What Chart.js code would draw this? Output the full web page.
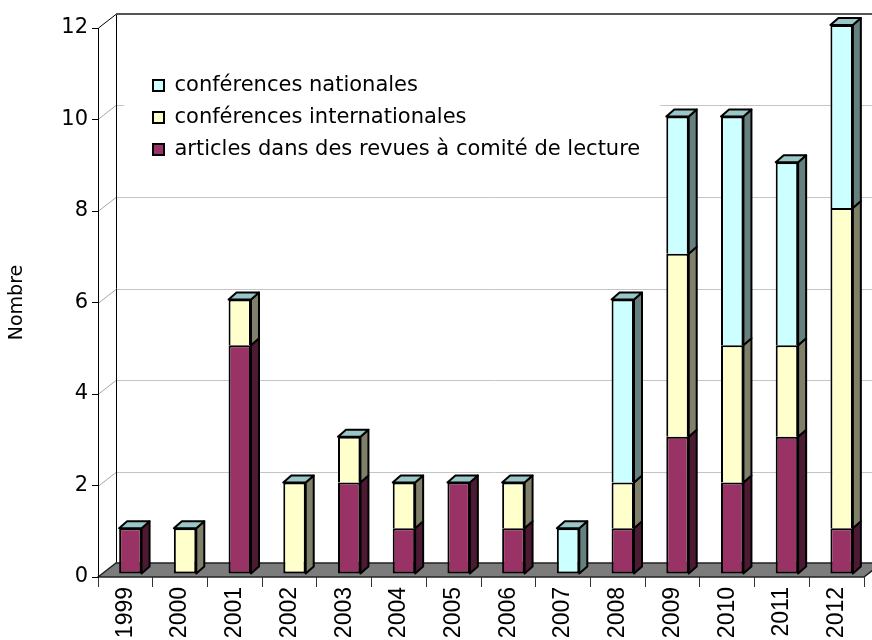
<!DOCTYPE html>
<html>
<head>
<meta charset="utf-8">
<script src="https://cdn.jsdelivr.net/npm/chart.js@4"></script>
<style>
  html, body { margin: 0; padding: 0; background: #fff; }
</style>
</head>
<body>
<canvas id="publiChart" width="872" height="640"></canvas>
<script>
const years = ['1999', '2000', '2001', '2002', '2003', '2004', '2005', '2006', '2007', '2008', '2009', '2010', '2011', '2012'];
const articles = [1, 0, 5, 0, 2, 1, 2, 1, 0, 1, 3, 2, 3, 1];
const internationales = [0, 1, 1, 2, 1, 1, 0, 1, 0, 1, 4, 3, 2, 7];
const nationales = [0, 0, 0, 0, 0, 0, 0, 0, 1, 4, 3, 5, 4, 4];
const yTicks = [0, 2, 4, 6, 8, 10, 12];

const seriesNames = [
    'articles dans des revues à comité de lecture',
    'conférences internationales',
    'conférences nationales'
];

// front / side colours per series
const frontColors = ['#993366', '#ffffcc', '#ccffff'];
const sideColors = ['#4d1a33', '#80806a', '#668080'];
const topColor = '#99c6c6';

const wall = { dx: 18, dy: 14 };   // depth of the back wall
const depth = { dx: 8, dy: 7 };    // depth of a bar
const shift = { x: 5, y: -3 };     // bars sit half way in the floor

const seriesValues = [articles, internationales, nationales];

Chart.defaults.font.family = '"DejaVu Sans", Verdana, sans-serif';
Chart.defaults.color = '#000';

const box3d = {
    id: 'box3d',
    afterLayout(chart) {
        const lg = chart.legend;
        const w = lg.width;
        lg.left = 142;
        lg.top = 64;
        lg.right = lg.left + w;
    },
    beforeDraw(chart) {
        const { ctx, chartArea } = chart;
        const yScale = chart.scales.y;
        const L = chartArea.left;
        const R = chartArea.right;
        const y0 = yScale.getPixelForValue(0);
        const yTop = yScale.getPixelForValue(yTicks[yTicks.length - 1]);

        ctx.save();
        // grid lines on side and back wall
        ctx.lineWidth = 1;
        yTicks.slice(1, -1).forEach(v => {
            const y = Math.round(yScale.getPixelForValue(v)) + 0.5;
            ctx.strokeStyle = '#a8a8a8';
            ctx.beginPath();
            ctx.moveTo(L, y);
            ctx.lineTo(L + wall.dx, y - wall.dy);
            ctx.stroke();
            ctx.strokeStyle = '#c4c4c4';
            ctx.beginPath();
            ctx.moveTo(L + wall.dx, y - wall.dy);
            ctx.lineTo(R + wall.dx, y - wall.dy);
            ctx.stroke();
        });

        // white legend panel hides grid lines
        const hb = chart.legend.legendHitBoxes;
        if (hb && hb.length) {
            const x1 = Math.min(...hb.map(b => b.left)) - 29;
            const x2 = Math.max(...hb.map(b => b.left + b.width)) + 20;
            const y1 = Math.min(...hb.map(b => b.top)) - 30;
            const y2 = Math.max(...hb.map(b => b.top + b.height)) + 30;
            ctx.fillStyle = '#fff';
            ctx.fillRect(x1, y1, x2 - x1, y2 - y1);
        }

        // wall edges
        ctx.strokeStyle = '#000';
        ctx.lineWidth = 1;
        ctx.beginPath();
        ctx.moveTo(L + 0.5, yTop);
        ctx.lineTo(L + wall.dx + 0.5, yTop - wall.dy);
        ctx.lineTo(L + wall.dx + 0.5, y0 - wall.dy);
        ctx.stroke();
        ctx.strokeStyle = '#555';
        ctx.lineWidth = 2;
        ctx.beginPath();
        ctx.moveTo(L + wall.dx, yTop - wall.dy);
        ctx.lineTo(R + wall.dx, yTop - wall.dy);
        ctx.stroke();

        // floor
        ctx.fillStyle = '#7c7c7c';
        ctx.strokeStyle = '#222';
        ctx.lineWidth = 1.5;
        ctx.beginPath();
        ctx.moveTo(L, y0);
        ctx.lineTo(L + wall.dx, y0 - wall.dy);
        ctx.lineTo(R + wall.dx, y0 - wall.dy);
        ctx.lineTo(R, y0);
        ctx.closePath();
        ctx.fill();
        ctx.stroke();
        ctx.restore();
    },
    beforeDatasetsDraw(chart) {
        chart.ctx.save();
        chart.ctx.translate(shift.x, shift.y);
    },
    afterDatasetsDraw(chart) {
        const ctx = chart.ctx;
        const metas = chart.data.datasets.map((d, i) => chart.getDatasetMeta(i));
        ctx.lineWidth = 2;
        ctx.strokeStyle = '#000';
        ctx.lineJoin = 'round';
        years.forEach((yr, i) => {
            let topEl = null;
            metas.forEach((meta, di) => {
                const el = meta.data[i];
                const raw = chart.data.datasets[di].data[i];
                if (raw === null || raw === undefined) return;
                const right = el.x + el.width / 2;
                const top = Math.min(el.y, el.base);
                const bottom = Math.max(el.y, el.base);
                ctx.fillStyle = sideColors[di];
                ctx.beginPath();
                ctx.moveTo(right, bottom);
                ctx.lineTo(right, top);
                ctx.lineTo(right + depth.dx, top - depth.dy);
                ctx.lineTo(right + depth.dx, bottom - depth.dy);
                ctx.closePath();
                ctx.fill();
                ctx.stroke();
                topEl = el;
            });
            if (topEl) {
                const left = topEl.x - topEl.width / 2;
                const right = topEl.x + topEl.width / 2;
                const top = Math.min(topEl.y, topEl.base);
                ctx.fillStyle = topColor;
                ctx.beginPath();
                ctx.moveTo(left, top);
                ctx.lineTo(left + depth.dx, top - depth.dy);
                ctx.lineTo(right + depth.dx, top - depth.dy);
                ctx.lineTo(right, top);
                ctx.closePath();
                ctx.fill();
                ctx.stroke();
            }
        });
        ctx.restore();
    }
};

// segments stacked on another one share its top border
function skipBase(c) {
    let below = 0;
    for (let d = 0; d < c.datasetIndex; d++) below += seriesValues[d][c.dataIndex];
    return below > 0 ? 'start' : false;
}

new Chart(document.getElementById('publiChart'), {
    type: 'bar',
    data: {
        labels: years,
        datasets: seriesValues.map((vals, i) => ({
            label: seriesNames[i],
            data: vals.map(v => (v === 0 ? null : v)),
            backgroundColor: frontColors[i],
            borderColor: '#000',
            borderWidth: 2,
            borderSkipped: skipBase,
            categoryPercentage: 1,
            barPercentage: 0.41,
            clip: false
        }))
    },
    options: {
        responsive: false,
        animation: false,
        devicePixelRatio: 1,
        layout: {
            padding: { top: 28, right: 8, left: 0, bottom: 0 }
        },
        plugins: {
            legend: {
                position: 'chartArea',
                align: 'start',
                reverse: true,
                labels: {
                    boxWidth: 11,
                    boxHeight: 11,
                    padding: 11,
                    color: '#000',
                    font: { size: 21 }
                }
            },
            tooltip: { enabled: false }
        },
        scales: {
            x: {
                stacked: true,
                afterFit(scale) { scale.height = 63; },
                grid: {
                    drawOnChartArea: false,
                    drawTicks: true,
                    tickLength: 10,
                    color: '#333'
                },
                border: { display: false },
                ticks: {
                    minRotation: 90,
                    maxRotation: 90,
                    autoSkip: false,
                    padding: 0,
                    color: '#000',
                    font: { family: '"Liberation Sans", Arial, sans-serif', size: 23 }
                }
            },
            y: {
                stacked: true,
                min: 0,
                max: 12,
                afterFit(scale) { scale.width = 98; },
                afterBuildTicks(scale) {
                    scale.ticks = yTicks.map(v => ({ value: v }));
                },
                grid: {
                    drawOnChartArea: false,
                    drawTicks: true,
                    tickLength: 6,
                    color: '#000'
                },
                border: { display: true, color: '#000', width: 1 },
                ticks: {
                    padding: 4,
                    color: '#000',
                    font: { size: 21 }
                },
                title: {
                    display: true,
                    text: 'Nombre',
                    color: '#000',
                    padding: { top: 6, bottom: 0 },
                    font: { size: 19 }
                }
            }
        }
    },
    plugins: [box3d]
});
</script>
</body>
</html>
